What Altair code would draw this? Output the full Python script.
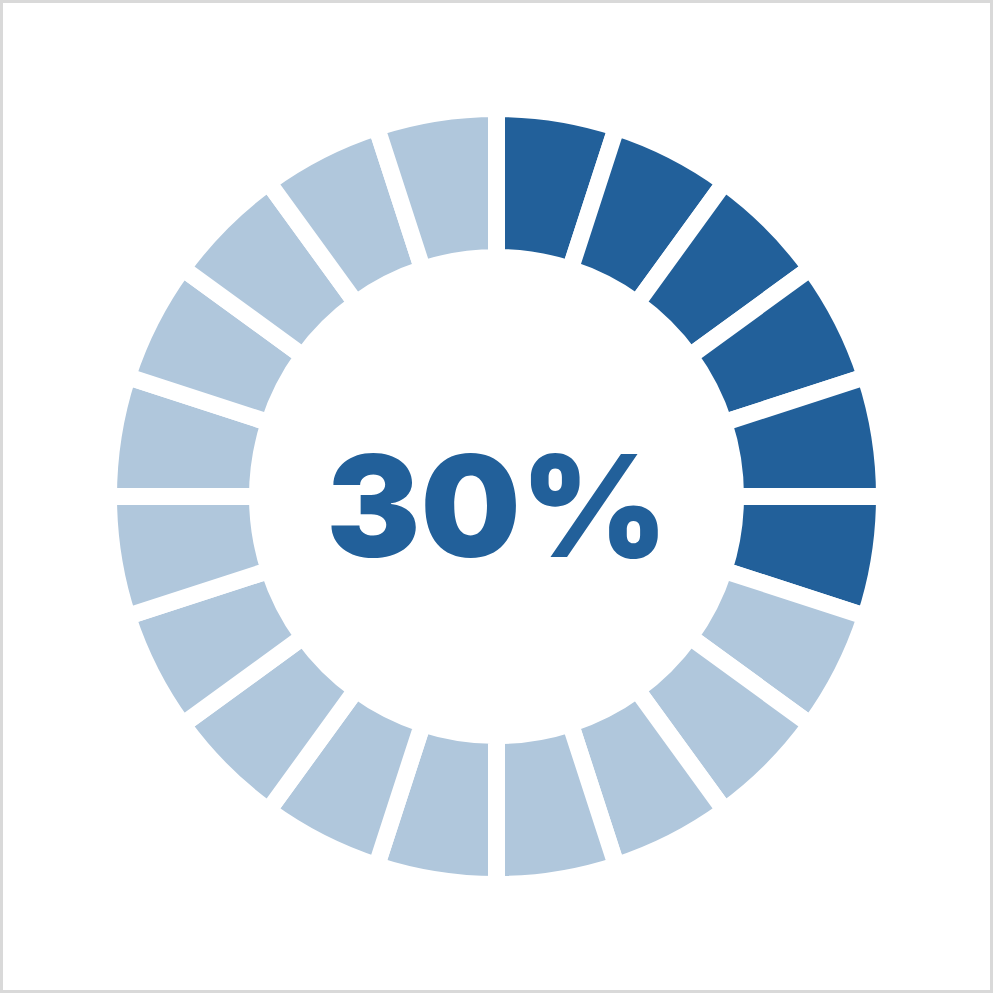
import altair as alt
import pandas as pd

# Data
n_segments = 20
filled_segments = 6
label_text = ["30%"]

segments = list(range(n_segments))
status = ["filled" if i < filled_segments else "empty" for i in segments]
values = [1] * n_segments

df = pd.DataFrame({"idx": segments, "status": status, "value": values})
df_text = pd.DataFrame({"label": label_text})

DARK = "#22609a"
LIGHT = "#b0c7dc"

arcs = alt.Chart(df).mark_arc(
    innerRadius=239, outerRadius=388, stroke="white", strokeWidth=17, strokeJoin="miter"
).encode(
    theta=alt.Theta("value:Q", stack=True),
    order=alt.Order("idx:Q"),
    color=alt.Color("status:N", scale=alt.Scale(domain=["filled", "empty"], range=[DARK, LIGHT]), legend=None),
)

text = alt.Chart(df_text).mark_text(
    font="Inter", fontWeight=900, fontSize=141, color=DARK, baseline="alphabetic", align="center"
).encode(
    text="label:N",
    x=alt.value(497),
    y=alt.value(557),
)

chart = alt.layer(arcs, text).properties(
    width=993, height=993, padding=0, autosize=alt.AutoSizeParams(type="none")
).configure_view(stroke="#d9d9d9", strokeWidth=6)

chart.save("out.html", embed_options={"renderer": "svg", "actions": False})
